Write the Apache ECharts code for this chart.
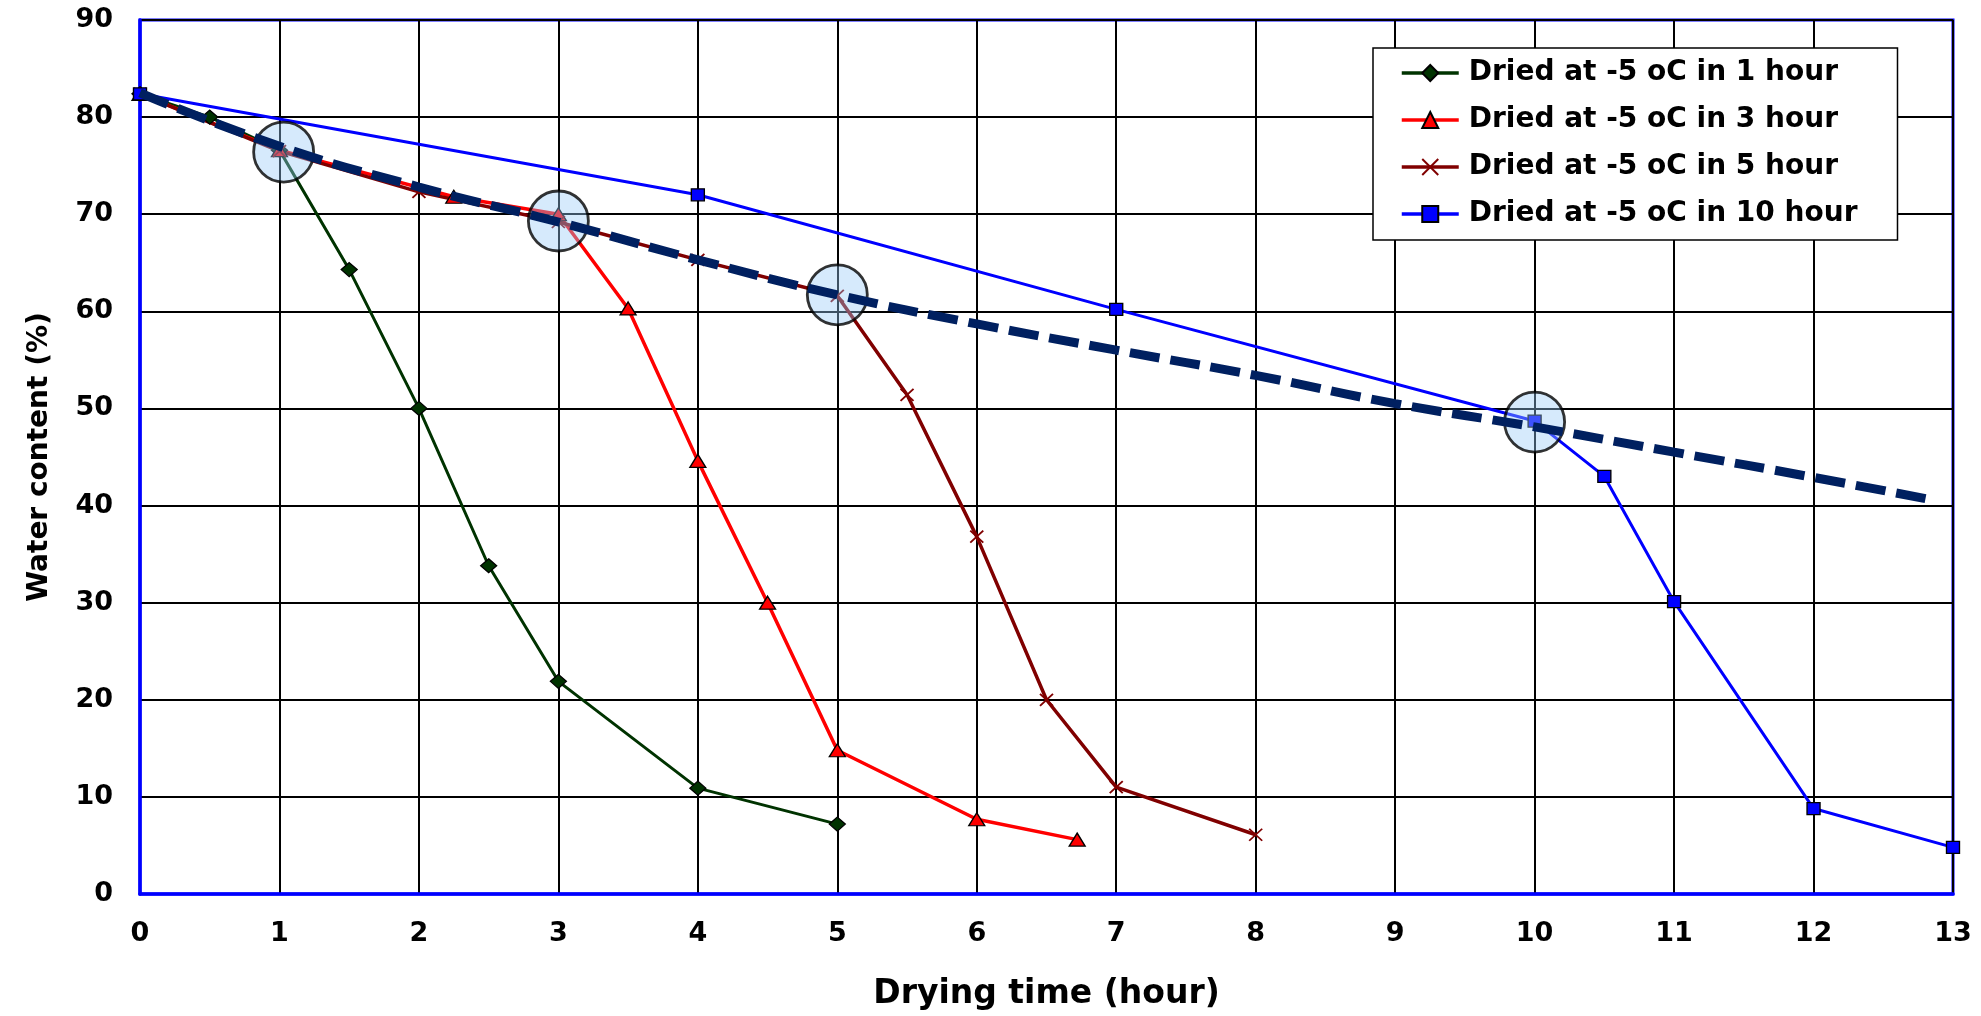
<!DOCTYPE html>
<html>
<head>
<meta charset="utf-8">
<script src="https://cdn.jsdelivr.net/npm/echarts@6/dist/echarts.min.js"></script>
<style>
  html, body { margin: 0; padding: 0; background: #ffffff; }
  #chart { width: 1981px; height: 1016px; }
</style>
</head>
<body>
<div id="chart"></div>
<script>
// Drying curves: water content (%) against drying time (hour)
const seriesNames = [
  'Dried at -5 oC in 1 hour',
  'Dried at -5 oC in 3 hour',
  'Dried at -5 oC in 5 hour',
  'Dried at -5 oC in 10 hour'
];

const hours1h = [0, 0.5, 1, 1.5, 2, 2.5, 3, 4, 5];
const water1h = [82.4, 80.0, 76.6, 64.3, 50.0, 33.8, 21.9, 10.9, 7.2];

const hours3h = [0, 1, 2.25, 3, 3.5, 4, 4.5, 5, 6, 6.72];
const water3h = [82.4, 76.6, 71.8, 70.0, 60.3, 44.6, 30.0, 14.8, 7.7, 5.6];

const hours5h = [0, 1, 2, 3, 4, 5, 5.5, 6, 6.5, 7, 8];
const water5h = [82.4, 76.5, 72.3, 69.2, 65.3, 61.6, 51.4, 36.8, 20.0, 11.0, 6.1];

const hours10h = [0, 4, 7, 10, 10.5, 11, 12, 13];
const water10h = [82.4, 72.0, 60.2, 48.7, 43.0, 30.1, 8.8, 4.8];

// Points where each curve leaves the common drying path
const breakHours = [1.03, 3, 5, 10];
const breakWater = [76.4, 69.3, 61.7, 48.6];

// Common drying path (dashed)
const pathHours = [0, 1, 2, 3, 4, 5, 6, 7, 8, 9, 10, 11, 12, 12.88];
const pathWater = [82.5, 77.0, 72.8, 69.2, 65.3, 61.7, 58.7, 56.0, 53.4, 50.5, 48.1, 45.5, 42.9, 40.5];

const xTicks = { min: 0, max: 13, step: 1 };
const yTicks = { min: 0, max: 90, step: 10 };

const zip = (xs, ys) => xs.map((x, i) => [x, ys[i]]);

const FONT = 'DejaVu Sans';
const AXIS_BLUE = '#0000ff';

const labelStyle = { fontFamily: FONT, fontWeight: 'bold', fontSize: 27, color: '#000' };
const titleStyle = { fontFamily: FONT, fontWeight: 'bold', fontSize: 33, color: '#000' };

function curve(name, xs, ys, color, width, symbol, symbolSize, border) {
  return {
    type: 'line',
    name: name,
    data: zip(xs, ys),
    symbol: symbol,
    symbolSize: symbolSize,
    showSymbol: true,
    z: 2,
    lineStyle: { color: color, width: width },
    itemStyle: border
      ? { color: color, borderColor: '#000', borderWidth: 1.3 }
      : { color: color, borderColor: color, borderWidth: 1.8 },
    emphasis: { disabled: true }
  };
}

const chart = echarts.init(document.getElementById('chart'), null, { renderer: 'canvas' });

chart.setOption({
  animation: false,
  backgroundColor: '#ffffff',
  grid: {
    left: 140, right: 28, top: 20, bottom: 117,
    show: true,
    backgroundColor: '#ffffff',
    borderColor: AXIS_BLUE,
    borderWidth: 3
  },
  xAxis: {
    type: 'value',
    min: xTicks.min, max: xTicks.max, interval: xTicks.step,
    name: 'Drying time (hour)',
    nameLocation: 'middle',
    nameGap: 84,
    nameTextStyle: titleStyle,
    axisLine: { show: true, onZero: false, lineStyle: { color: AXIS_BLUE, width: 3.5 } },
    axisTick: { show: false },
    axisLabel: Object.assign({ margin: 26 }, labelStyle),
    splitLine: { show: true, lineStyle: { color: '#000', width: 2 } }
  },
  yAxis: {
    type: 'value',
    min: yTicks.min, max: yTicks.max, interval: yTicks.step,
    name: 'Water content (%)',
    nameLocation: 'middle',
    nameRotate: 90,
    nameGap: 86,
    nameTextStyle: Object.assign({}, titleStyle, { fontSize: 28 }),
    axisLine: { show: true, onZero: false, lineStyle: { color: AXIS_BLUE, width: 3.5 } },
    axisTick: { show: false },
    axisLabel: Object.assign({ margin: 27 }, labelStyle),
    splitLine: { show: true, lineStyle: { color: '#000', width: 2 } }
  },
  legend: {
    data: seriesNames,
    orient: 'vertical',
    left: 1373, top: 48,
    backgroundColor: '#ffffff',
    borderColor: '#000',
    borderWidth: 1.5,
    borderRadius: 0,
    padding: [11, 40, 12, 27],
    itemWidth: 57,
    itemHeight: 20,
    itemGap: 19,
    selectedMode: false,
    lineStyle: { width: 3.5 },
    textStyle: { fontFamily: FONT, fontWeight: 'bold', fontSize: 28, color: '#000', padding: [0, 0, 0, 5] }
  },
  series: [
    curve(seriesNames[0], hours1h, water1h, '#003300', 3, 'diamond', [16, 14], true),
    curve(seriesNames[1], hours3h, water3h, '#ff0000', 3.5, 'triangle', [16, 13], true),
    curve(seriesNames[2], hours5h, water5h, '#800000', 3.5,
      'path://M0,0L10,10M10,0L0,10', [13, 12], false),
    curve(seriesNames[3], hours10h, water10h, '#0000ff', 3, 'rect', [13, 12], true),
    {
      type: 'scatter',
      name: 'break points',
      data: zip(breakHours, breakWater),
      symbol: 'circle',
      symbolSize: 60,
      z: 3,
      itemStyle: { color: 'rgba(153,203,247,0.5)', borderColor: '#000', borderWidth: 2.8 },
      emphasis: { disabled: true },
      silent: true
    },
    {
      type: 'line',
      name: 'drying path',
      data: zip(pathHours, pathWater),
      smooth: true,
      showSymbol: false,
      symbol: 'none',
      z: 4,
      lineStyle: { color: '#002060', width: 9, type: [30, 11] },
      emphasis: { disabled: true },
      silent: true
    }
  ]
});
</script>
</body>
</html>
